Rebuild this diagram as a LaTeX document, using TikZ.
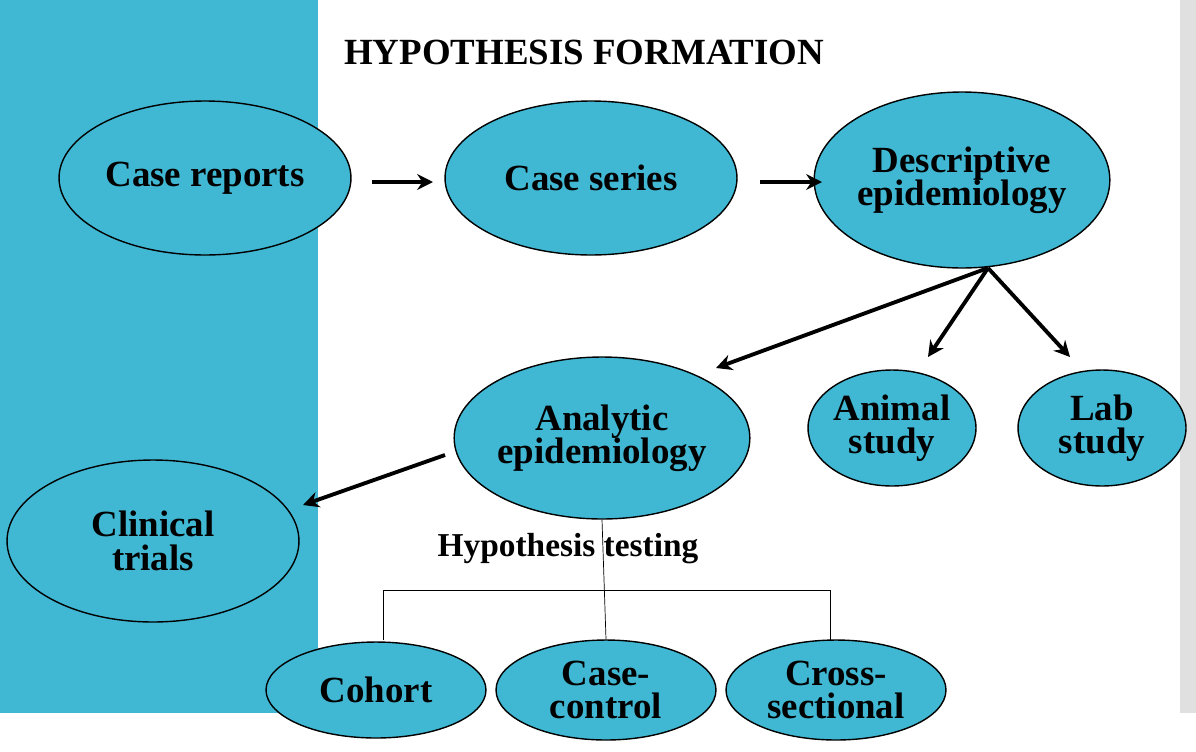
\documentclass[tikz,border=0pt]{standalone}
\usepackage{fontspec}
\setmainfont{Liberation Serif}
\usetikzlibrary{arrows.meta,shapes.geometric}
\definecolor{tealc}{HTML}{41B8D3}
\begin{document}
\begin{tikzpicture}[x=0.02cm,y=-0.02cm,
  lbl/.style={font=\fontsize{21}{22}\selectfont\bfseries,align=center},
  el/.style={lbl,draw=black,thick,fill=tealc,ellipse,inner sep=0pt},
  arr/.style={line width=2.2pt,-{Stealth[length=9pt,width=9pt]}}]
\useasboundingbox (0,0) rectangle (1196,751);
\fill[white] (0,0) rectangle (1196,751);
\fill[tealc] (0,0) rectangle (318,713);
\fill[black!12] (1180,0) rectangle (1196,713);
\node[el,minimum width=5.84cm,minimum height=3.08cm] (cr) at (205,178) {Case reports};
\node[el,minimum width=5.84cm,minimum height=3.08cm] (cs) at (591,178) {Case series};
\node[el,minimum width=5.32cm,minimum height=3.52cm] (de) at (962,180) {Descriptive\\[-3pt]epidemiology};
\node[el,minimum width=5.88cm,minimum height=3.24cm] (an) at (602,438) {Analytic\\[-3pt]epidemiology};
\node[el,minimum width=3.36cm,minimum height=2.32cm] (as) at (892,428) {Animal\\[-3pt]study};
\node[el,minimum width=3.36cm,minimum height=2.32cm] (ls) at (1102,428) {Lab\\[-3pt]study};
\node[el,minimum width=5.84cm,minimum height=3.24cm] (ct) at (153,541) {Clinical\\[-3pt]trials};
\node[el,minimum width=4.4cm,minimum height=1.92cm] (co) at (376,690) {Cohort};
\node[el,minimum width=4.4cm,minimum height=2.0cm] (cc) at (606,690) {Case-\\[-3pt]control};
\node[el,minimum width=4.4cm,minimum height=2.0cm] (xs) at (836,690) {Cross-\\[-3pt]sectional};
\node[lbl,anchor=west] (title) at (338,52) {HYPOTHESIS FORMATION};
\node[lbl,font=\fontsize{19}{20}\selectfont\bfseries] (ht) at (568,549) {Hypothesis testing};
\coordinate (a1) at (372,182); \coordinate (a2) at (433,182);
\coordinate (b1) at (760,182); \coordinate (b2) at (822,182);
\coordinate (d) at (988,268);
\coordinate (d1) at (716,368); \coordinate (d2) at (928,357); \coordinate (d3) at (1070,357);
\coordinate (e1) at (445,455); \coordinate (e2) at (303,505);
\draw[arr] (a1) -- (a2);
\draw[arr] (b1) -- (b2);
\draw[arr] (d) -- (d1);
\draw[arr] (d) -- (d2);
\draw[arr] (d) -- (d3);
\draw[arr] (e1) -- (e2);
\coordinate (tl) at (383,590); \coordinate (tr) at (830,590);
\coordinate (bl) at (383,640); \coordinate (br) at (830,640);
\draw[thin] (an.south) -- (cc.north);
\draw[thin] (bl) -- (tl) -- (tr) -- (br);
\end{tikzpicture}
\end{document}
